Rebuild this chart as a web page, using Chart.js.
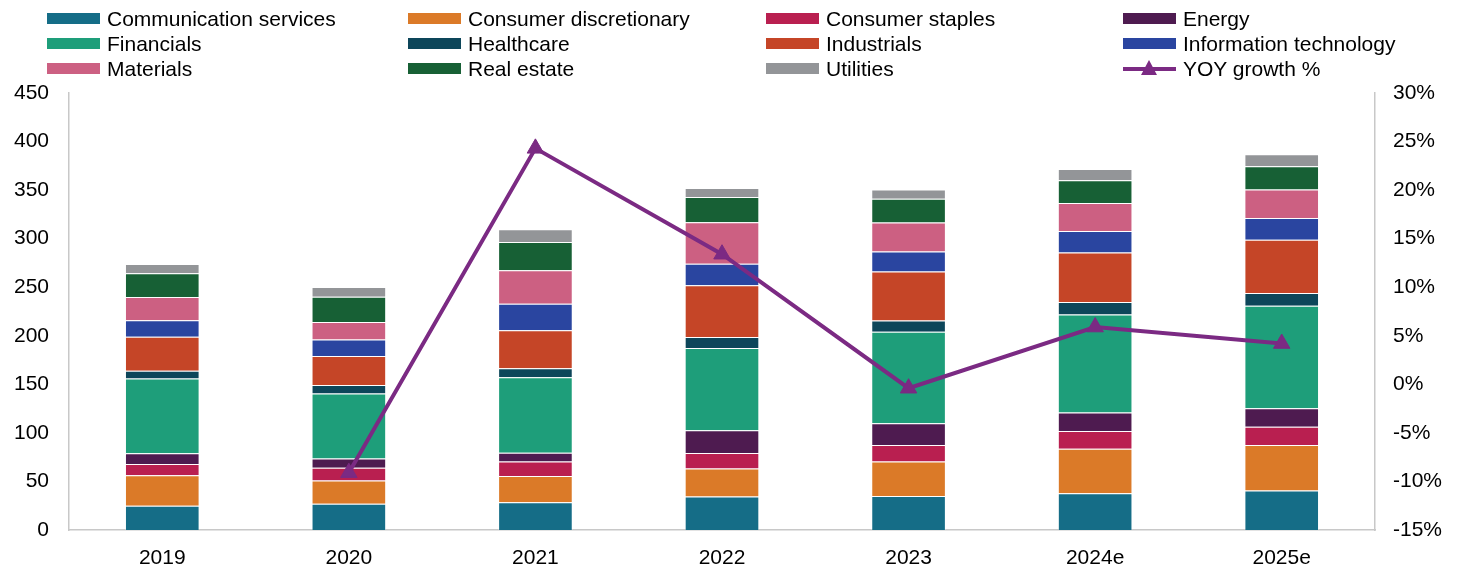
<!DOCTYPE html>
<html>
<head>
<meta charset="utf-8">
<script src="https://cdn.jsdelivr.net/npm/chart.js@4/dist/chart.umd.min.js"></script>
<style>
    body { margin: 0; background: #fff; font-family: "Liberation Sans", Arial, sans-serif; }
    #wrap { position: relative; width: 1457px; height: 566px; }
    #myChart { position: absolute; left: 0; top: 0; }
    #legend { position: absolute; left: 0; top: 6px; width: 1457px; }
    .item { position: absolute; height: 25px; line-height: 25px; font-size: 21px; color: #000; white-space: nowrap; }
    .swatch { position: absolute; top: 7px; width: 53px; height: 11px; }
    .swatch.line { top: 11px; height: 4px; }
    .tri { position: absolute; left: 18px; top: -7px; width: 0; height: 0;
           border-left: 8.5px solid transparent; border-right: 8.5px solid transparent; border-bottom: 15px solid #7b2a83; }
</style>
</head>
<body>
<div id="wrap">
    <canvas id="myChart" width="1457" height="566"></canvas>
    <div id="legend"></div>
</div>
<script>
const years = ['2019', '2020', '2021', '2022', '2023', '2024e', '2025e'];

// sector earnings, stacked bottom to top
const communicationServices = [25, 27, 28.6, 34.4, 35, 37.8, 40.6];
const consumerDiscretionary = [31.4, 24, 27, 29, 35.5, 45.8, 46.8];
const consumerStaples = [11.6, 13, 15, 16, 17, 18.4, 19];
const energy = [11, 9.6, 9, 23.4, 22.3, 19, 19];
const financials = [77, 67, 77.7, 84.6, 94.3, 101, 105.6];
const healthcare = [8, 8.6, 9.3, 11.4, 11.7, 12.7, 13];
const industrials = [35, 30, 39, 53.3, 50.3, 51, 55];
const informationTechnology = [17, 17, 27.5, 22, 20.6, 22.3, 22.3];
const materials = [24, 18, 34.5, 42.7, 30, 28.6, 29.3];
const realEstate = [24.5, 26, 29, 26, 24.4, 23.6, 24];
const utilities = [9.3, 10, 13, 9.5, 9.6, 11.5, 12.4];

// year-on-year growth, right axis (%)
const yoyGrowth = [null, -9.1, 24.3, 13.4, -0.4, 5.9, 4.2];

const leftTicks = { min: 0, max: 450, step: 50 };
const rightTicks = { min: -15, max: 30, step: 5 };

const sectors = [
    ['Communication services', communicationServices, '#156d87'],
    ['Consumer discretionary', consumerDiscretionary, '#db7a28'],
    ['Consumer staples', consumerStaples, '#b91f50'],
    ['Energy', energy, '#4e1b50'],
    ['Financials', financials, '#1e9e7a'],
    ['Healthcare', healthcare, '#0d465a'],
    ['Industrials', industrials, '#c54527'],
    ['Information technology', informationTechnology, '#2a45a0'],
    ['Materials', materials, '#cc6082'],
    ['Real estate', realEstate, '#176035'],
    ['Utilities', utilities, '#939598']
];

const lineColor = '#7b2a83';
const tickFont = { family: '"Liberation Sans", Arial, sans-serif', size: 21 };

const datasets = sectors.map(([label, data, color]) => ({
    type: 'bar',
    label: label,
    data: data,
    backgroundColor: color,
    borderColor: 'rgba(255,255,255,0.3)',
    borderWidth: 1,
    yAxisID: 'y',
    stack: 'sectors',
    order: 1,
    barPercentage: 1,
    categoryPercentage: 0.4
}));

datasets.push({
    type: 'line',
    label: 'YOY growth %',
    data: yoyGrowth,
    borderColor: lineColor,
    backgroundColor: lineColor,
    borderWidth: 4,
    pointStyle: 'triangle',
    pointRadius: 9.5,
    pointBorderWidth: 1,
    pointBackgroundColor: lineColor,
    yAxisID: 'y1',
    order: 0,
    tension: 0
});

const ctx = document.getElementById('myChart').getContext('2d');
const myChart = new Chart(ctx, {
    data: { labels: years, datasets: datasets },
    options: {
        responsive: false,
        animation: false,
        layout: { padding: { top: 93, left: 0, right: 0, bottom: 0 } },
        plugins: { legend: { display: false }, tooltip: { enabled: false } },
        scales: {
            x: {
                stacked: true,
                grid: { display: false },
                border: { display: true, color: '#c8c8c8', width: 1.5 },
                ticks: { color: '#000', font: tickFont, padding: 8 },
                afterFit: (scale) => { scale.height = 36; }
            },
            y: {
                position: 'left',
                stacked: true,
                min: leftTicks.min,
                max: leftTicks.max,
                grid: { display: false },
                border: { display: true, color: '#c8c8c8', width: 1.5 },
                ticks: { stepSize: leftTicks.step, color: '#000', font: tickFont, padding: 12 },
                afterFit: (scale) => { scale.width = 69; }
            },
            y1: {
                position: 'right',
                min: rightTicks.min,
                max: rightTicks.max,
                grid: { display: false },
                border: { display: true, color: '#c8c8c8', width: 1.5 },
                ticks: {
                    stepSize: rightTicks.step,
                    color: '#000',
                    font: tickFont,
                    padding: 10,
                    callback: (v) => v + '%'
                },
                afterFit: (scale) => { scale.width = 82; }
            }
        }
    }
});

// legend in four columns, same order as the datasets
const colX = [47, 408, 766, 1123];
const legend = document.getElementById('legend');
myChart.data.datasets.forEach((ds, i) => {
    const item = document.createElement('div');
    item.className = 'item';
    item.style.left = colX[i % 4] + 'px';
    item.style.top = (Math.floor(i / 4) * 25) + 'px';
    item.style.paddingLeft = '60px';
    const sw = document.createElement('span');
    sw.className = 'swatch' + (ds.type === 'line' ? ' line' : '');
    sw.style.left = '0px';
    sw.style.background = ds.type === 'line' ? ds.borderColor : ds.backgroundColor;
    if (ds.type === 'line') {
        const tri = document.createElement('span');
        tri.className = 'tri';
        sw.appendChild(tri);
    }
    item.appendChild(sw);
    item.appendChild(document.createTextNode(ds.label));
    legend.appendChild(item);
});
</script>
</body>
</html>
